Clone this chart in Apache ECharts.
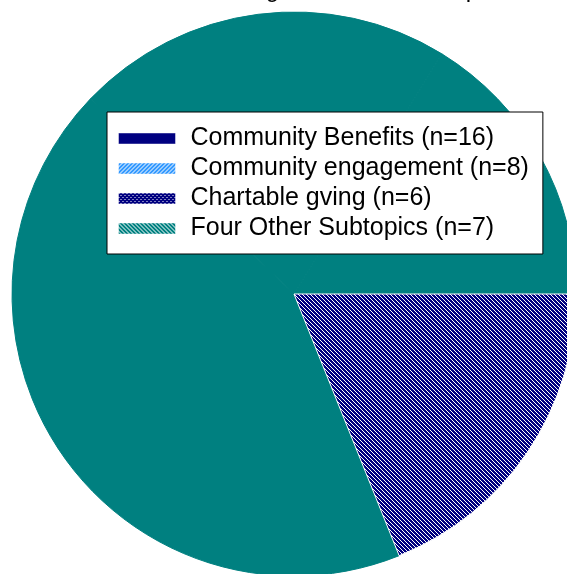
<!DOCTYPE html>
<html>
<head>
<meta charset="utf-8">
<script src="https://cdn.jsdelivr.net/npm/echarts@6/dist/echarts.min.js"></script>
<style>
  html, body { margin: 0; padding: 0; background: #ffffff; }
  #chart { width: 567px; height: 574px; }
</style>
</head>
<body>
<div id="chart"></div>
<script>
// Subtopic counts
const categories = [
  'Community Benefits',
  'Community engagement',
  'Chartable gving',
  'Four Other Subtopics'
];
const counts = [16, 8, 6, 7];
const titleText = 'Categorization of Subtopics';

const TEAL = '#008080';
const NAVY = '#000080';

// Small repeating tiles used as fill patterns
function tile(size, bg, fg, pixels) {
  const c = document.createElement('canvas');
  c.width = size; c.height = size;
  const ctx = c.getContext('2d');
  ctx.fillStyle = bg;
  ctx.fillRect(0, 0, size, size);
  ctx.fillStyle = fg;
  pixels.forEach(function (p) { ctx.fillRect(p[0], p[1], 1, 1); });
  return { image: c, repeat: 'repeat' };
}
// "\" stripes: one light pixel per row on the main diagonal
const backDiag = [[0, 0], [1, 1], [2, 2], [3, 3]];
// "/" stripes
const fwdDiag = [[3, 0], [2, 1], [1, 2], [0, 3]];

const sliceStripe = tile(4, NAVY, '#ffffff', backDiag);
const legendFills = [
  NAVY,
  tile(4, '#3399ff', '#ffffff', fwdDiag),
  tile(4, NAVY, '#ffffff', [[0, 0], [2, 2]]),
  tile(4, TEAL, '#ffffff', backDiag)
];

const total = counts.reduce(function (a, b) { return a + b; }, 0);
const last = counts.length - 1;
// Start so that the final slice runs clockwise from the 3 o'clock position
const startAngle = 360 * (total - counts[last]) / total;

const pieData = categories.map(function (name, i) {
  const isLast = i === last;
  return {
    name: name,
    value: counts[i],
    itemStyle: isLast
      ? { color: sliceStripe, borderColor: '#ffffff', borderWidth: 1 }
      : { color: TEAL, borderColor: TEAL, borderWidth: 1 }
  };
});

const legendData = categories.map(function (name, i) {
  return {
    name: name + ' (n=' + counts[i] + ')',
    icon: 'rect',
    itemStyle: {
      color: legendFills[i],
      borderColor: 'rgba(255,255,255,0.45)',
      borderWidth: 1
    }
  };
});

// Legend labels carry the counts, so the series names are formatted the same way
pieData.forEach(function (d, i) { d.name = legendData[i].name; });

const chart = echarts.init(document.getElementById('chart'), null, { renderer: 'canvas' });
chart.setOption({
  animation: false,
  backgroundColor: '#ffffff',
  graphic: [{
    type: 'text',
    x: 215,
    y: -10,
    style: {
      text: titleText,
      font: '24px "Liberation Sans", Arial, sans-serif',
      fill: '#000000',
      verticalAlign: 'middle'
    },
    silent: true
  }],
  legend: {
    orient: 'vertical',
    left: 107,
    top: 112,
    padding: [14, 14, 13, 11],
    itemWidth: 57,
    itemHeight: 11,
    itemGap: 5,
    backgroundColor: '#ffffff',
    borderColor: '#000000',
    borderWidth: 1,
    selectedMode: false,
    data: legendData,
    textStyle: {
      fontFamily: '"Liberation Sans", Arial, sans-serif',
      fontSize: 25,
      lineHeight: 25,
      color: '#000000',
      padding: [0, 0, 0, 10]
    }
  },
  series: [{
    type: 'pie',
    center: [294, 294],
    radius: 282,
    startAngle: startAngle,
    clockwise: true,
    silent: true,
    label: { show: false },
    labelLine: { show: false },
    emphasis: { disabled: true },
    data: pieData
  }]
});
</script>
</body>
</html>
